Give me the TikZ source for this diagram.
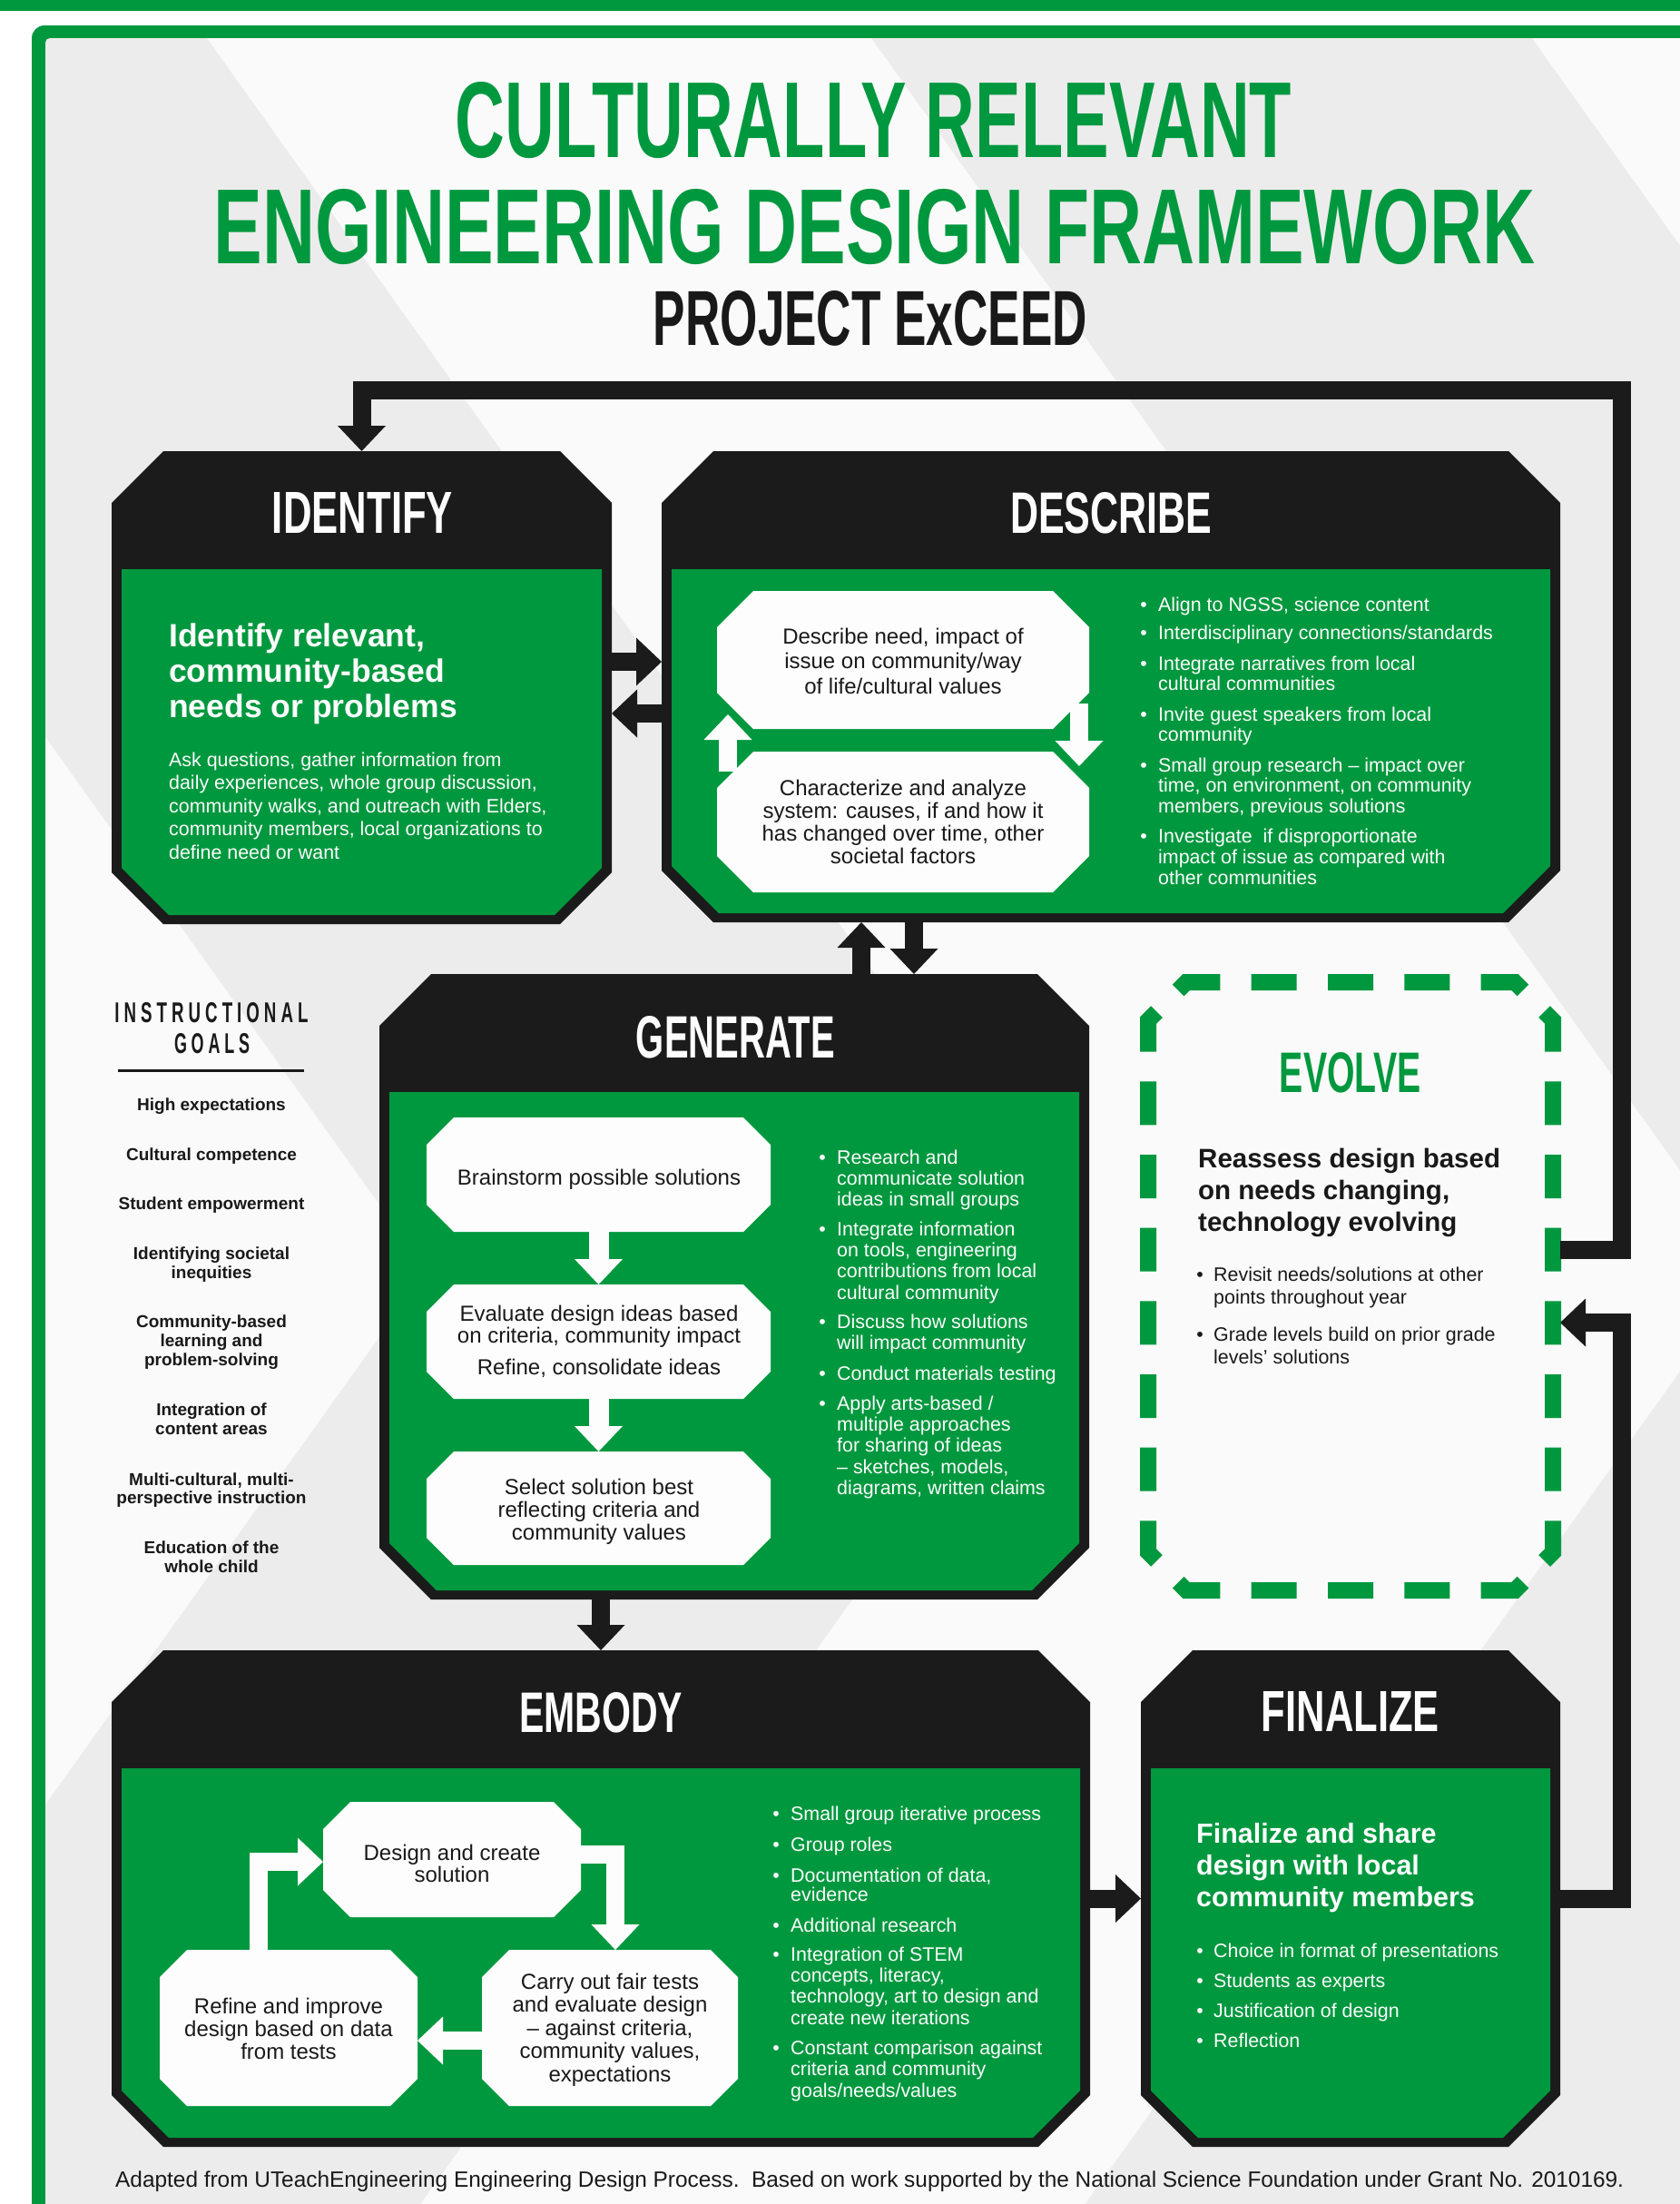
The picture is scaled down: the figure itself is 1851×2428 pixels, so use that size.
\documentclass[tikz,border=0pt]{standalone}
\usepackage{fontspec}
\setmainfont{Liberation Sans}
\usepackage{graphicx}
\usetikzlibrary{arrows.meta,calc}

\definecolor{cgreen}{RGB}{0,152,62}
\definecolor{cblack}{RGB}{27,27,27}
\definecolor{cink}{RGB}{25,25,25}
\definecolor{cgray}{RGB}{236,236,236}
\definecolor{cpale}{RGB}{250,250,250}
\definecolor{cwhite}{RGB}{253,253,253}

\newcommand\lsp{\hspace{8pt}}

% stage box: black chamfered frame with a black header and a green body
\newcommand\stagebox[5]{%
  \node[anchorbox, minimum width={(#4-#2)*1pt}, minimum height={(#5-#3)*1pt}] (#1) at ({(#2+#4)/2},{(#3+#5)/2}) {};
  \fill[cblack] ({#2+57},#3) -- ({#4-57},#3) -- (#4,{#3+57}) -- (#4,{#5-57}) -- ({#4-57},#5) -- ({#2+57},#5) -- (#2,{#5-57}) -- (#2,{#3+57}) -- cycle;
  \fill[cgreen] ({#2+11},{#3+130}) -- ({#4-11},{#3+130}) -- ({#4-11},{#5-62}) -- ({#4-63},{#5-10}) -- ({#2+63},{#5-10}) -- ({#2+11},{#5-62}) -- cycle;}

% white chamfered step box
\newcommand\wbox[6]{%
  \node[anchorbox, minimum width={(#4-#2)*1pt}, minimum height={(#5-#3)*1pt}] (#1) at ({(#2+#4)/2},{(#3+#5)/2}) {};
  \fill[cwhite] ({#2+#6},#3) -- ({#4-#6},#3) -- (#4,{#3+#6}) -- (#4,{#5-#6}) -- ({#4-#6},#5) -- ({#2+#6},#5) -- (#2,{#5-#6}) -- (#2,{#3+#6}) -- cycle;}

% one node per text line: name, anchor, x, first baseline, leading, style, lines
\newcommand\textlines[7]{%
  \foreach \tline [count=\k from 0] in {#7}{%
    \node[#6, anchor=#2] (#1-\k) at (#3,{#4+\k*#5}) {\tline};
  }}

% bulleted item: name, bullet x, text x, first baseline, leading, style, lines
\newcommand\bulletitem[7]{%
  \node[#6, anchor=base] (#1-dot) at (#2,#4) {\textbullet};
  \textlines{#1}{base west}{#3}{#4}{#5}{#6}{#7}}

\begin{document}
\begin{tikzpicture}[x=1pt,y=-1pt,
  anchorbox/.style={rectangle, draw=none, inner sep=0pt, outer sep=0pt},
  conn/.style={draw=cblack, line width=20pt, line join=miter, -{Triangle[width=53pt,length=28pt,line width=0pt]}},
  warr/.style={draw=cwhite, line width=20pt, line join=miter, -{Triangle[width=53pt,length=28pt,line width=0pt]}},
  stagetitle/.style={anchor=base, inner sep=0pt, text=cwhite, font=\bfseries},
  bigtitle/.style={anchor=base, inner sep=0pt, font=\bfseries},
  wbody/.style={text=cwhite, inner sep=0pt, font=\fontsize{21.4}{25}\selectfont},
  dbody/.style={text=cink, inner sep=0pt, font=\fontsize{21.4}{25}\selectfont},
  boxtxt/.style={text=cink, inner sep=0pt, font=\fontsize{24}{28}\selectfont},
  headw/.style={text=cwhite, inner sep=0pt, font=\fontsize{35.5}{40}\selectfont\bfseries},
  headf/.style={text=cwhite, inner sep=0pt, font=\fontsize{30.5}{35}\selectfont\bfseries},
  heade/.style={text=cink, inner sep=0pt, font=\fontsize{29.5}{35}\selectfont\bfseries},
  goal/.style={text=cink, inner sep=0pt, font=\fontsize{19}{21}\selectfont\bfseries},
  evdash/.style={draw=cgreen, line width=18pt, line cap=butt, line join=miter}]

\useasboundingbox (0,0) rectangle (1851,2428);
\clip (0,0) rectangle (1851,2428);

% page, top band and green frame
\fill[white] (0,0) rectangle (1851,2428);
\fill[cgreen] (0,0) rectangle (1851,12);
\fill[cgreen, rounded corners=14pt] (35,28) rectangle (1900,2500);

% chevron-striped background inside the frame
\begin{scope}
  \clip[rounded corners=5pt] (50,42) rectangle (1900,2500);
  \fill[cgray] (50,42) rectangle (1900,2500);
  \foreach \a in {-262,1198,2658}{
    \fill[cpale] ({\a-1000},0) -- (\a,1400) -- ({\a-786},2500) -- ({\a+732-786},2500) -- ({\a+732},1400) -- ({\a+732-1000},0) -- cycle;
  }
\end{scope}

% titles
\node[bigtitle, text=cgreen] (title1) at (962.5,173) {\resizebox{921pt}{83pt}{CULTURALLY RELEVANT}};
\node[bigtitle, text=cgreen] (title2) at (963.5,290) {\resizebox{1455pt}{82pt}{ENGINEERING DESIGN FRAMEWORK}};
\node[bigtitle, text=cink] (title3) at (959,380) {\resizebox{478pt}{60pt}{PROJECT ExCEED}};

% stage boxes
\stagebox{identify}{123}{497}{674}{1018}
\stagebox{describe}{729}{497}{1719}{1016}
\stagebox{generate}{418}{1073}{1200}{1762}
\stagebox{embody}{123}{1818}{1201}{2365}
\stagebox{finalize}{1257}{1818}{1719}{2365}

\node[stagetitle] (identify-title) at (399.5,587) {\resizebox{199pt}{45pt}{IDENTIFY}};
\node[stagetitle] (describe-title) at (1224,587) {\resizebox{222pt}{45pt}{DESCRIBE}};
\node[stagetitle] (generate-title) at (810.5,1165) {\resizebox{219pt}{46pt}{GENERATE}};
\node[stagetitle] (embody-title) at (662,1908) {\resizebox{180pt}{44pt}{EMBODY}};
\node[stagetitle] (finalize-title) at (1488,1907) {\resizebox{196pt}{44pt}{FINALIZE}};

% evolve: dashed chamfered outline
\node[anchorbox, minimum width=463pt, minimum height=687pt] (evolve) at (1487.5,1416.5) {};
\draw[evdash, dash pattern=on 50pt off 34.28pt, dash phase=67.14pt] (1286,1103) -- (1307,1082) -- (1669,1082) -- (1690,1103);
\draw[evdash, dash pattern=on 48pt off 32.675pt, dash phase=64.34pt] (1690,1103) -- (1711,1124) -- (1711,1710) -- (1690,1731);
\draw[evdash, dash pattern=on 50pt off 34.28pt, dash phase=67.14pt] (1690,1731) -- (1669,1752) -- (1307,1752) -- (1286,1731);
\draw[evdash, dash pattern=on 48pt off 32.675pt, dash phase=64.34pt] (1286,1731) -- (1265,1710) -- (1265,1124) -- (1286,1103);
\node[stagetitle, text=cgreen] (evolve-title) at (1488,1203) {\resizebox{156pt}{44pt}{EVOLVE}};

% ---- identify content
\textlines{idhead}{base west}{186}{712}{39}{headw}{{Identify relevant,},{community-based},{needs or problems}}
\textlines{idbody}{base west}{186}{844}{25.5}{wbody}{{Ask questions, gather information from},{daily experiences, whole group discussion,},{community walks, and outreach with Elders,},{community members, local organizations to},{define need or want}}

% ---- describe content
\wbox{dbox1}{790}{651}{1200}{803}{40}
\wbox{dbox2}{790}{828}{1200}{983}{40}
\draw[warr] ([xshift=-11pt,yshift=28pt]dbox1.south east) -- ([xshift=-11pt,yshift=-16pt]dbox2.north east);
\draw[warr] ([xshift=12pt,yshift=-22pt]dbox2.north west) -- ([xshift=12pt,yshift=16pt]dbox1.south west);
\textlines{dbox1t}{base}{995}{709}{27.5}{boxtxt}{{Describe need, impact of},{issue on community/way},{of life/cultural values}}
\textlines{dbox2t}{base}{995}{876}{25}{boxtxt}{{Characterize and analyze},{system: causes, if and how it},{has changed over time, other},{societal factors}}

\bulletitem{db1}{1260}{1276}{673}{22.7}{wbody}{{Align to NGSS, science content}}
\bulletitem{db2}{1260}{1276}{704}{22.7}{wbody}{{Interdisciplinary connections/standards}}
\bulletitem{db3}{1260}{1276}{738}{22.7}{wbody}{{Integrate narratives from local},{cultural communities}}
\bulletitem{db4}{1260}{1276}{794}{22.7}{wbody}{{Invite guest speakers from local},{community}}
\bulletitem{db5}{1260}{1276}{850}{22.7}{wbody}{{Small group research – impact over},{time, on environment, on community},{members, previous solutions}}
\bulletitem{db6}{1260}{1276}{928}{23}{wbody}{{Investigate\ \ if disproportionate},{impact of issue as compared with},{other communities}}

% ---- generate content
\wbox{gbox1}{470}{1231}{849}{1357}{30}
\wbox{gbox2}{470}{1415}{849}{1541}{30}
\wbox{gbox3}{470}{1599}{849}{1724}{30}
\draw[warr, line width=22pt] (gbox1.south) -- (gbox2.north);
\draw[warr, line width=22pt] (gbox2.south) -- (gbox3.north);
\textlines{gbox1t}{base}{660}{1305}{24}{boxtxt}{{Brainstorm possible solutions}}
\textlines{gbox2t}{base}{660}{1455}{24.5}{boxtxt}{{Evaluate design ideas based},{on criteria, community impact}}
\textlines{gbox2u}{base}{660}{1514}{24}{boxtxt}{{Refine, consolidate ideas}}
\textlines{gbox3t}{base}{660}{1646}{25}{boxtxt}{{Select solution best},{reflecting criteria and},{community values}}

\bulletitem{gb1}{906}{922}{1282}{23.4}{wbody}{{Research and},{communicate solution},{ideas in small groups}}
\bulletitem{gb2}{906}{922}{1361}{23.4}{wbody}{{Integrate information},{on tools, engineering},{contributions from local},{cultural community}}
\bulletitem{gb3}{906}{922}{1463}{23.4}{wbody}{{Discuss how solutions},{will impact community}}
\bulletitem{gb4}{906}{922}{1520}{23.4}{wbody}{{Conduct materials testing}}
\bulletitem{gb5}{906}{922}{1553}{23.4}{wbody}{{Apply arts-based /},{multiple approaches},{for sharing of ideas},{– sketches, models,},{diagrams, written claims}}

% ---- embody content
\wbox{ebox1}{356}{1985}{640}{2112}{30}
\wbox{ebox2}{176}{2148}{460}{2320}{30}
\wbox{ebox3}{531}{2148}{813}{2320}{30}
\draw[warr] ([yshift=5.5pt]ebox1.east) -| ([xshift=6pt]ebox3.north);
\draw[warr] ([xshift=-33pt]ebox2.north) |- ([yshift=-2.5pt]ebox1.west);
\draw[warr] ([yshift=-14pt]ebox3.west) -- ([yshift=-14pt]ebox2.east);
\textlines{ebox1t}{base}{498}{2049}{24.5}{boxtxt}{{Design and create},{solution}}
\textlines{ebox2t}{base}{318}{2218}{25}{boxtxt}{{Refine and improve},{design based on data},{from tests}}
\textlines{ebox3t}{base}{672}{2191}{25.5}{boxtxt}{{Carry out fair tests},{and evaluate design},{– against criteria,},{community values,},{expectations}}

\bulletitem{eb1}{855}{871}{2005}{23.5}{wbody}{{Small group iterative process}}
\bulletitem{eb2}{855}{871}{2039}{23.5}{wbody}{{Group roles}}
\bulletitem{eb3}{855}{871}{2073}{21.5}{wbody}{{Documentation of data,},{evidence}}
\bulletitem{eb4}{855}{871}{2128}{23.5}{wbody}{{Additional research}}
\bulletitem{eb5}{855}{871}{2160}{23.4}{wbody}{{Integration of STEM},{concepts, literacy,},{technology, art to design and},{create new iterations}}
\bulletitem{eb6}{855}{871}{2263}{23.5}{wbody}{{Constant comparison against},{criteria and community},{goals/needs/values}}

% ---- finalize content
\textlines{fihead}{base west}{1318}{2030}{35}{headf}{{Finalize and share},{design with local},{community members}}
\bulletitem{fb1}{1322}{1337}{2156}{33}{wbody}{{Choice in format of presentations}}
\bulletitem{fb2}{1322}{1337}{2189}{33}{wbody}{{Students as experts}}
\bulletitem{fb3}{1322}{1337}{2222}{33}{wbody}{{Justification of design}}
\bulletitem{fb4}{1322}{1337}{2255}{33}{wbody}{{Reflection}}

% ---- evolve content
\textlines{evhead}{base west}{1320}{1286}{35}{heade}{{Reassess design based},{on needs changing,},{technology evolving}}
\bulletitem{vb1}{1322}{1337}{1411}{25}{dbody}{{Revisit needs/solutions at other},{points throughout year}}
\bulletitem{vb2}{1322}{1337}{1477}{25}{dbody}{{Grade levels build on prior grade},{levels’ solutions}}

% ---- instructional goals
\node[anchor=base, inner sep=0pt, text=cink, font=\fontsize{30}{30}\selectfont\bfseries] (goals-h1) at (233,1126)
  {\resizebox{213pt}{22pt}{I\lsp N\lsp S\lsp T\lsp R\lsp U\lsp C\lsp T\lsp I\lsp O\lsp N\lsp A\lsp L}};
\node[anchor=base, inner sep=0pt, text=cink, font=\fontsize{30}{30}\selectfont\bfseries] (goals-h2) at (233.5,1160)
  {\resizebox{83pt}{22pt}{G\lsp O\lsp A\lsp L\lsp S}};
\draw[cink, line width=3pt] (130,1179) -- (335,1179);
\textlines{goal1}{base}{233}{1223}{21}{goal}{{High expectations}}
\textlines{goal2}{base}{233}{1278}{21}{goal}{{Cultural competence}}
\textlines{goal3}{base}{233}{1332}{21}{goal}{{Student empowerment}}
\textlines{goal4}{base}{233}{1387}{21}{goal}{{Identifying societal},{inequities}}
\textlines{goal5}{base}{233}{1462}{21}{goal}{{Community-based},{learning and},{problem-solving}}
\textlines{goal6}{base}{233}{1559}{21}{goal}{{Integration of},{content areas}}
\textlines{goal7}{base}{233}{1636}{20.5}{goal}{{Multi-cultural, multi-},{perspective instruction}}
\textlines{goal8}{base}{233}{1711}{21}{goal}{{Education of the},{whole child}}

% ---- connectors between stages
\coordinate (idR) at ([yshift=28.5pt]identify.east);
\draw[conn] (idR) -- (idR -| describe.west);
\coordinate (deL) at ([yshift=-29.5pt]describe.west);
\draw[conn] (deL) -- (deL -| identify.east);
\coordinate (geU) at ([xshift=140pt]generate.north);
\draw[conn] (geU) -- (geU |- describe.south);
\coordinate (deD) at ([xshift=-217pt]describe.south);
\draw[conn] (deD) -- (deD |- generate.north);
\draw[conn] (embody.north |- generate.south) -- (embody.north);
\draw[conn] (embody.east) -- (finalize.west);
\coordinate (evIn) at ([yshift=-40.5pt]evolve.east);
\draw[conn] (finalize.east) -- ++(68,0) |- (evIn);
\coordinate (evOut) at ([yshift=39.5pt]evolve.east);
\coordinate (loopTop) at (1787,430);
\draw[conn] (evOut) -| (loopTop) -| (identify.north);

% footer
\node[anchor=base west, inner sep=0pt, text=cink, font=\fontsize{23}{27}\selectfont] (footer) at (127,2409)
  {\resizebox{1662pt}{!}{Adapted from UTeachEngineering Engineering Design Process.\ \ Based on work supported by the National Science Foundation under Grant No. 2010169.}};

\end{tikzpicture}
\end{document}
